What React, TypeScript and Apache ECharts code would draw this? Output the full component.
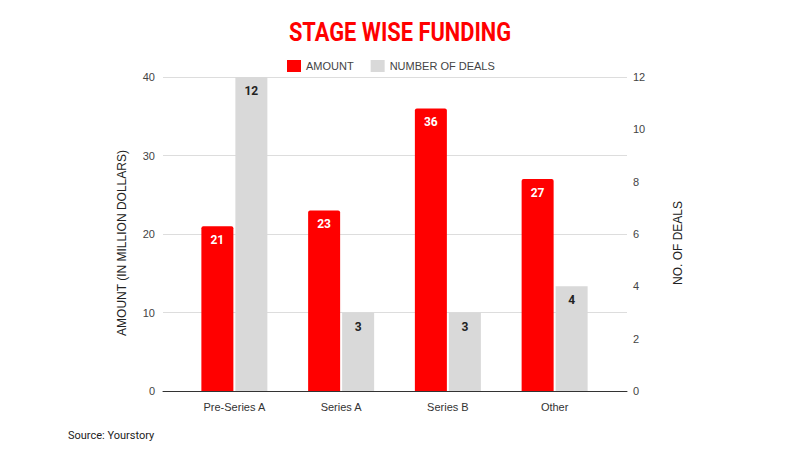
import React, { useEffect, useRef } from "react";
import * as echarts from "echarts";

const categories = ["Pre-Series A", "Series A", "Series B", "Other"];
const amount = [21, 23, 36, 27];
const deals = [12, 3, 3, 4];
const amountTicks = { min: 0, max: 40, interval: 10 };
const dealsTicks = { min: 0, max: 12, interval: 2 };

export default function App() {
  const ref = useRef<HTMLDivElement>(null);
  useEffect(() => {
    const chart = echarts.init(ref.current!, null, { renderer: "svg" });
    const font = "Roboto, Arial, sans-serif";
    const sans = "'Liberation Sans', Arial, sans-serif";
    chart.setOption({
      animation: false,
      backgroundColor: "#ffffff",
      textStyle: { fontFamily: sans },
      graphic: [
        {
          type: "text",
          x: 400,
          y: 32,
          scaleX: 0.84,
          style: {
            text: "STAGE WISE FUNDING",
            fill: "#ff0000",
            font: "bold 26px Roboto, Arial, sans-serif",
            textAlign: "center",
            textVerticalAlign: "middle",
          },
        },
        {
          type: "text",
          x: 122,
          y: 243,
          rotation: Math.PI / 2,
          style: {
            text: "AMOUNT (IN MILLION DOLLARS)",
            fill: "#222",
            font: "12px 'Liberation Sans', Arial, sans-serif",
            textAlign: "center",
            textVerticalAlign: "middle",
          },
        },
        {
          type: "text",
          x: 678,
          y: 243,
          rotation: Math.PI / 2,
          style: {
            text: "NO. OF DEALS",
            fill: "#222",
            font: "12px 'Liberation Sans', Arial, sans-serif",
            textAlign: "center",
            textVerticalAlign: "middle",
          },
        },
        {
          type: "text",
          left: 68,
          top: 430,
          style: {
            text: "Source: Yourstory",
            fill: "#222",
            font: "11px Roboto, Arial, sans-serif",
          },
        },
      ],
      legend: {
        top: 60,
        left: 287,
        padding: 0,
        itemWidth: 14,
        itemHeight: 12,
        itemGap: 17,
        icon: "rect",
        textStyle: { color: "#444", fontSize: 11, fontFamily: sans },
        data: ["AMOUNT", "NUMBER OF DEALS"],
      },
      grid: [
        { left: 163, right: 173, top: 77, bottom: 59 },
        { left: 181, right: 192, top: 77, bottom: 59 },
      ],
      xAxis: [
        {
          type: "category",
          gridIndex: 0,
          data: categories,
          axisLabel: { show: false },
          axisTick: { show: false },
          axisLine: { show: true, lineStyle: { color: "#333", width: 1 } },
        },
        {
          type: "category",
          gridIndex: 1,
          data: categories,
          axisLabel: { color: "#333", fontSize: 11, margin: 10, fontFamily: sans },
          axisTick: { show: false },
          axisLine: { show: false },
        },
      ],
      yAxis: [
        {
          type: "value",
          gridIndex: 0,
          position: "left",
          ...amountTicks,
          axisLabel: { color: "#444", fontSize: 11, margin: 8, fontFamily: sans },
          axisLine: { show: false },
          axisTick: { show: false },
          splitLine: { lineStyle: { color: "#dddddd" } },
        },
        {
          type: "value",
          gridIndex: 0,
          position: "right",
          ...dealsTicks,
          axisLabel: { color: "#444", fontSize: 11, margin: 6, fontFamily: sans },
          axisLine: { show: false },
          axisTick: { show: false },
          splitLine: { show: false },
        },
        {
          type: "value",
          gridIndex: 1,
          ...amountTicks,
          show: false,
          splitLine: { show: false },
        },
        {
          type: "value",
          gridIndex: 1,
          ...dealsTicks,
          show: false,
          splitLine: { show: false },
        },
      ],
      series: [
        {
          name: "AMOUNT",
          type: "bar",
          xAxisIndex: 1,
          yAxisIndex: 2,
          data: amount,
          barWidth: 32,
          barGap: "6.25%",
          itemStyle: { color: "#ff0000", borderRadius: [2, 2, 0, 0] },
          label: {
            show: true,
            position: "insideTop",
            distance: 8,
            color: "#ffffff",
            fontWeight: "bold",
            fontSize: 12,
            fontFamily: font,
          },
        },
        {
          name: "NUMBER OF DEALS",
          type: "bar",
          xAxisIndex: 1,
          yAxisIndex: 3,
          data: deals,
          barWidth: 32,
          barGap: "6.25%",
          itemStyle: { color: "#d9d9d9" },
          label: {
            show: true,
            position: "insideTop",
            distance: 8,
            color: "#222222",
            fontWeight: "bold",
            fontSize: 12,
            fontFamily: font,
          },
        },
      ],
    });
    return () => chart.dispose();
  }, []);
  return (
    <div
      ref={ref}
      style={{ position: "absolute", left: 0, top: 0, width: 800, height: 450 }}
    />
  );
}
